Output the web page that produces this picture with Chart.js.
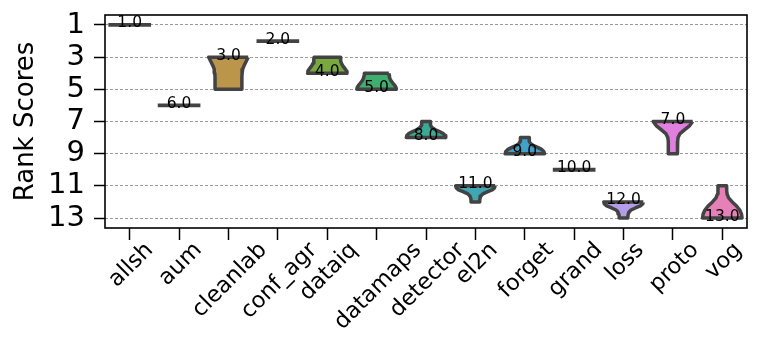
<!DOCTYPE html>
<html><head><meta charset="utf-8">
<script src="https://cdn.jsdelivr.net/npm/chart.js@4"></script>
<style>html,body{margin:0;padding:0;background:#fff}</style>
</head><body>
<canvas id="c" width="761" height="341"></canvas>
<script>
// ---- data ----
const categories = ['allsh','aum','cleanlab','conf_agr','dataiq','datamaps','detector','el2n','forget','grand','loss','proto','vog'];
const medians = [1, 6, 3, 2, 4, 5, 8, 11, 9, 10, 12, 7, 13];
const lows    = [1, 6, 3, 2, 3, 4, 7, 11, 8, 10, 12, 7, 11];
const highs   = [1, 6, 5, 2, 4, 5, 8, 12, 9, 10, 13, 9, 13];
const yTicks  = [1, 3, 5, 7, 9, 11, 13];
// relative violin width, sampled from the low rank value to the high rank value
const violinWidths = [
  [1],
  [1],
  [1.0, 0.9, 0.8, 0.72, 0.69, 0.68, 0.68, 0.68, 0.68],
  [1],
  [0.66, 0.67, 0.69, 0.72, 0.77, 0.84, 0.92, 0.98, 1.0],
  [0.62, 0.63, 0.65, 0.69, 0.75, 0.83, 0.92, 0.98, 1.0],
  [0.22, 0.22, 0.24, 0.3, 0.45, 0.68, 0.87, 0.97, 1.0],
  [1.0, 0.97, 0.85, 0.6, 0.38, 0.28, 0.24, 0.22, 0.22],
  [0.22, 0.22, 0.24, 0.3, 0.45, 0.68, 0.87, 0.97, 1.0],
  [1],
  [1.0, 0.97, 0.85, 0.6, 0.38, 0.28, 0.24, 0.22, 0.22],
  [1.0, 0.85, 0.6, 0.36, 0.26, 0.24, 0.23, 0.23, 0.23],
  [0.22, 0.22, 0.24, 0.32, 0.5, 0.72, 0.88, 0.97, 1.0]
];
const colors = ['#e8768a','#d88c4a','#bb954a','#9ea03f','#78a83f','#3fae6e','#3ca996','#3fa7b3','#41a2c9','#7f9de6','#b49de6','#e07fe0','#e681b8'];
const outline = '#434343';
const HALF = 0.4;

const datasets = categories.map((name, i) => {
  const prof = violinWidths[i];
  const lo = lows[i], hi = highs[i];
  if (prof.length === 1) {
    return { label: name, data: [{x: i - HALF*1.08, y: lo}, {x: i + HALF*1.08, y: lo}],
      borderColor: outline, borderWidth: 3.8, fill: false, pointRadius: 0, borderCapStyle: 'butt' };
  }
  const n = prof.length;
  const right = prof.map((w, k) => ({x: i + HALF*w, y: lo + (hi - lo)*k/(n-1)}));
  const left = prof.map((w, k) => ({x: i - HALF*w, y: lo + (hi - lo)*k/(n-1)})).reverse();
  return { label: name, data: [...right, ...left, right[0]],
    borderColor: outline, borderWidth: 3.5, backgroundColor: colors[i], fill: 'shape',
    pointRadius: 0, borderJoinStyle: 'round', tension: 0 };
});

const medianLabels = {
  id: 'medianLabels',
  afterDatasetsDraw(chart) {
    const {ctx, scales: {x, y}} = chart;
    ctx.save();
    ctx.font = '15.5px "DejaVu Sans"';
    ctx.fillStyle = '#000';
    ctx.textAlign = 'center';
    ctx.textBaseline = 'alphabetic';
    medians.forEach((m, i) => {
      ctx.fillText(m.toFixed(1), x.getPixelForValue(i), y.getPixelForValue(m) + 2.5);
    });
    ctx.restore();
  }
};

const xLabels = {
  id: 'xLabels',
  afterDraw(chart) {
    const {ctx, chartArea, scales: {x}} = chart;
    ctx.save();
    ctx.font = '22.5px "DejaVu Sans"';
    ctx.fillStyle = '#000';
    ctx.textAlign = 'center';
    ctx.textBaseline = 'alphabetic';
    const top = chartArea.bottom + 8;
    categories.forEach((lab, i) => {
      const m = ctx.measureText(lab);
      const asc = m.fontBoundingBoxAscent, desc = m.fontBoundingBoxDescent;
      const W = (m.width + asc + desc) / Math.SQRT2;
      ctx.save();
      ctx.translate(x.getPixelForValue(i), top + W/2);
      ctx.rotate(-Math.PI/4);
      ctx.fillText(lab, 0, (asc - desc)/2);
      ctx.restore();
    });
    ctx.restore();
  }
};

const frame = {
  id: 'frame',
  afterDraw(chart) {
    const {ctx, chartArea: a} = chart;
    ctx.save();
    ctx.strokeStyle = '#000';
    ctx.lineWidth = 1.6;
    ctx.strokeRect(a.left, a.top, a.right - a.left, a.bottom - a.top);
    ctx.restore();
  }
};

new Chart(document.getElementById('c'), {
  type: 'line',
  data: { datasets },
  plugins: [medianLabels, xLabels, frame],
  options: {
    responsive: false,
    animation: false,
    layout: { padding: { top: 15, right: 14, left: 0, bottom: 0 } },
    plugins: { legend: { display: false }, tooltip: { enabled: false } },
    scales: {
      x: {
        type: 'linear', min: -0.5, max: 12.5,
        afterBuildTicks: s => { s.ticks = categories.map((c, i) => ({ value: i })); },
        ticks: { display: false },
        grid: { drawOnChartArea: false, drawTicks: true, tickLength: 12, tickColor: '#000', tickWidth: 1.5 },
        border: { display: false },
        afterFit: s => { s.height = 113; s.paddingLeft = 0; s.paddingRight = 0; }
      },
      y: {
        type: 'linear', reverse: true, min: 0.38, max: 13.62,
        afterBuildTicks: s => { s.ticks = yTicks.map(v => ({ value: v })); },
        ticks: { font: { family: 'DejaVu Sans', size: 29 }, color: '#000', padding: 9, autoSkip: false },
        grid: { color: '#9a9a9a', lineWidth: 1, tickLength: 11, tickColor: '#000', tickWidth: 1.5, tickBorderDash: [] },
        border: { display: false, dash: [3, 2] },
        title: { display: true, text: 'Rank Scores', color: '#000', font: { family: 'DejaVu Sans', size: 26 }, padding: { top: 11, bottom: 0 } },
        afterFit: s => { s.width = 105; s.paddingTop = 0; s.paddingBottom = 0; }
      }
    }
  }
});
</script>
</body></html>
